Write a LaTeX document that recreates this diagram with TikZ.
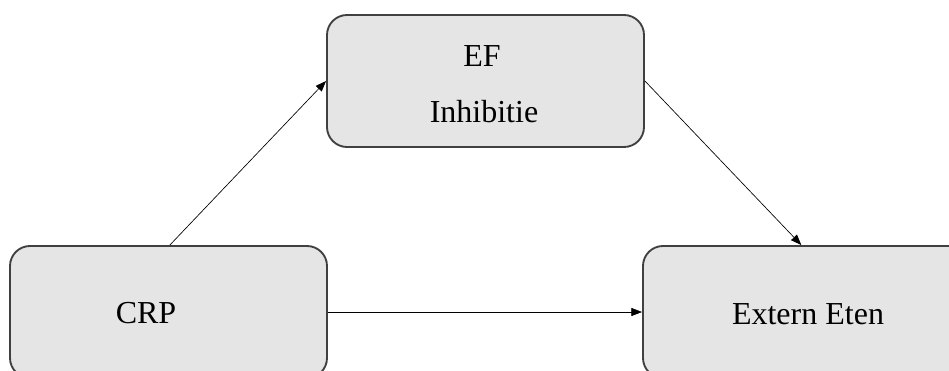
\documentclass[tikz,border=0pt]{standalone}
\usepackage{fontspec}
\setmainfont{Liberation Serif}
\usetikzlibrary{arrows.meta,calc}
\begin{document}
\begin{tikzpicture}[x=0.75pt,y=-0.75pt,
  box/.style={draw=black!75,line width=1.4pt,fill=black!10,rounded corners=15pt,
    inner sep=0pt,minimum height=99pt},
  lbl/.style={anchor=base,inner sep=0pt,font=\fontsize{24}{28}\selectfont},
  arr/.style={line width=0.5pt,-{Triangle[length=8pt,width=6pt]}}]
\useasboundingbox (0,0) rectangle (949,371);
\clip (0,0) rectangle (949,371);
\node[box,minimum width=237.75pt] (ef) at (485.5,81) {};
\node[box,minimum width=237.75pt] (crp) at (168.5,312) {};
\node[box,minimum width=247.5pt] (ext) at (808,312) {};
\node[lbl] (t1) at (482,66) {EF};
\node[lbl] (t2) at (484,122) {Inhibitie};
\node[lbl] (t3) at (146,323) {CRP};
\node[lbl] (t4) at (808,324) {Extern Eten};
\draw[arr] ([xshift=1pt]crp.north) -- (ef.west);
\draw[arr] (ef.east) -- ([xshift=-5pt]ext.north);
\draw[arr] (crp.east) -- (ext.west);
\end{tikzpicture}
\end{document}
